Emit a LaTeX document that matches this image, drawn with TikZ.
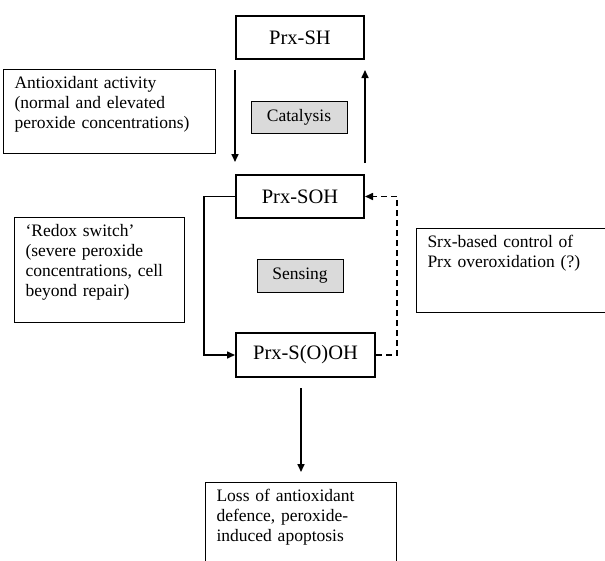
\documentclass[tikz,border=0pt]{standalone}
\usepackage{fontspec}
\setmainfont{Liberation Serif}
\usetikzlibrary{calc, positioning, arrows.meta}
\definecolor{boxgray}{RGB}{218,218,218}

\tikzset{
  state/.style={draw, line width=2pt, font=\fontsize{20.5}{24}\selectfont, minimum height=43pt},
  phase/.style={draw, line width=1pt, fill=boxgray, font=\fontsize{17.5}{20}\selectfont, minimum height=32pt},
  note/.style={draw, line width=1pt, anchor=north west, align=left, inner xsep=11pt, inner ysep=7pt,
    font=\fontsize{17.5}{20}\selectfont},
  flow/.style={line width=1.6pt, ->}
}

\begin{document}
\begin{tikzpicture}[x=1pt, y=-1pt, >={Triangle[length=8pt,width=7pt]}]
\path[use as bounding box, clip] (0,0) rectangle (605,560);

% Prx states
\node[state, minimum width=128pt] (sh) at (300,37.5) {Prx-SH};
\node[state, minimum width=128pt] (soh) at (300,196.5) {Prx-SOH};
\node[state, minimum width=139pt, minimum height=44pt] (sooh) at (305.5,355) {Prx-S(O)OH};

% grey labels
\node[phase, minimum width=96pt] (cat) at (299,117) {Catalysis};
\node[phase, minimum width=86pt, minimum height=33pt] (sens) at (300,275.5) {Sensing};

% side notes
\node[note, text width=190pt, text depth=58pt] (act) at (3,69)
  {Antioxidant activity\\(normal and elevated\\peroxide concentrations)};
\node[note, text width=148pt, text depth=79pt] (redox) at (14,217)
  {‘Redox switch’\\(severe peroxide\\concentrations, cell\\beyond repair)};
\node[note, text width=175pt, text depth=58pt] (srx) at (416,228)
  {Srx-based control of\\Prx overoxidation (?)};
\node[note, text width=169pt, text depth=60pt] (loss) at (205,482)
  {Loss of antioxidant\\defence, peroxide-\\induced apoptosis};

% catalytic cycle
\draw[flow] ([yshift=-10pt]sh.south west) -- ([yshift=12pt]soh.north west);
\draw[flow] ([yshift=11pt]soh.north east) -- ([yshift=-10pt]sh.south east);

% overoxidation and repair
\draw[flow] (soh.west) -- ++(-31,0) |- (sooh.west);
\draw[flow, dash pattern=on 6pt off 4pt] (sooh.east) -- ++(21,0) |- (soh.east);
\draw[flow] ([yshift=-10pt]sooh.south -| loss.north) -- ([yshift=10pt]loss.north);
\end{tikzpicture}
\end{document}
